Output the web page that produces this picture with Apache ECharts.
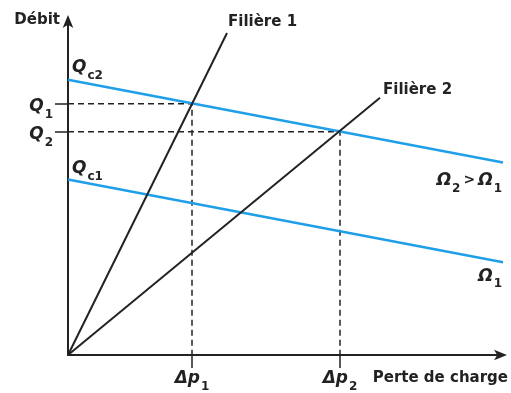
<!DOCTYPE html>
<html>
<head>
<meta charset="utf-8">
<script src="https://cdn.jsdelivr.net/npm/echarts@6/dist/echarts.min.js"></script>
<style>
  html, body { margin: 0; padding: 0; background: #fff; }
  #chart { width: 511px; height: 393px; }
</style>
</head>
<body>
<div id="chart"></div>
<script>
// values (arbitrary units, origin at the axes corner)
const filiere1 = [[0, 0], [159, 323]];
const filiere2 = [[0, 0], [312, 258]];
const omega2 = [[0, 276], [435, 193]];
const omega1 = [[0, 176], [435, 93]];
const operatingPoints = [[124, 252], [272, 224]];
const qLabels = ['1', '2'];
const xMax = 435;
const yMax = 337;

const font = 'DejaVu Sans';
const ink = '#222';
const blue = '#1e9fe8';

const rich = {
  q: { fontFamily: font, fontSize: 17, fontStyle: 'italic', fontWeight: 'bold', color: ink, lineHeight: 20, verticalAlign: 'middle' },
  s: { fontFamily: font, fontSize: 12, fontWeight: 'bold', color: ink, lineHeight: 20, verticalAlign: 'top', padding: [12, 0, 0, 1] },
  t: { fontFamily: font, fontSize: 14, fontWeight: 'bold', color: ink, lineHeight: 20, verticalAlign: 'middle', padding: [0, 3, 0, 3] }
};
const plainText = { fontFamily: font, fontSize: 15, fontWeight: 'bold', color: ink };

function sub (main, index) {
  return '{q|' + main + '}{s|' + index + '}';
}

function dashedGuide (pt) {
  return {
    type: 'line',
    data: [[0, pt[1]], pt, [pt[0], 0]],
    symbol: 'none',
    silent: true,
    lineStyle: { color: ink, width: 1.5, type: [6, 4] },
    z: 1
  };
}

// a line whose end points can carry a text label
function labelledLine (points, labels, style, z) {
  return {
    type: 'line',
    data: points.map((p, i) => labels[i] ? { value: p, label: Object.assign({ show: true }, labels[i]) } : { value: p }),
    symbol: 'circle',
    symbolSize: 0.01,
    itemStyle: { color: style.color },
    lineStyle: style,
    silent: true,
    z: z
  };
}

const myChart = echarts.init(document.getElementById('chart'));
myChart.setOption({
  animation: false,
  grid: { left: 68, right: 8, top: 19, bottom: 37 },
  xAxis: {
    type: 'value',
    min: 0,
    max: xMax,
    splitLine: { show: false },
    name: 'Perte de charge',
    nameLocation: 'end',
    nameGap: 5,
    nameTextStyle: Object.assign({ align: 'right', verticalAlign: 'top', padding: [16, 0, 0, 0] }, plainText),
    axisLine: { lineStyle: { color: ink, width: 2 }, symbol: ['none', 'arrow'], symbolSize: [8, 13], symbolOffset: [0, 4] },
    axisTick: { show: true, length: 13, inside: false, customValues: operatingPoints.map(p => p[0]), lineStyle: { color: ink, width: 1.5 } },
    axisLabel: {
      customValues: operatingPoints.map(p => p[0]),
      margin: 14,
      formatter: v => sub('Δp', qLabels[operatingPoints.findIndex(p => p[0] === v)]),
      rich: rich
    }
  },
  yAxis: {
    type: 'value',
    min: 0,
    max: yMax,
    splitLine: { show: false },
    name: 'Débit',
    nameLocation: 'end',
    nameGap: -1,
    nameTextStyle: Object.assign({ align: 'right', verticalAlign: 'middle', padding: [0, 8, 0, 0] }, plainText),
    axisLine: { lineStyle: { color: ink, width: 2 }, symbol: ['none', 'arrow'], symbolSize: [8, 13], symbolOffset: [0, 4] },
    axisTick: { show: true, length: 13, inside: false, customValues: operatingPoints.map(p => p[1]), lineStyle: { color: ink, width: 1.5 } },
    axisLabel: {
      customValues: operatingPoints.map(p => p[1]),
      margin: 15,
      padding: [6, 0, 0, 0],
      formatter: v => sub('Q', qLabels[operatingPoints.findIndex(p => p[1] === v)]),
      rich: rich
    }
  },
  series: [
    dashedGuide(operatingPoints[0]),
    dashedGuide(operatingPoints[1]),
    labelledLine(omega2, [
      { position: 'top', align: 'left', offset: [4, 3], formatter: sub('Q', 'c2'), rich: rich },
      { position: 'bottom', align: 'right', offset: [-1, 3], formatter: sub('Ω', '2') + '{t|>}' + sub('Ω', '1'), rich: rich }
    ], { color: blue, width: 2.5 }, 2),
    labelledLine(omega1, [
      { position: 'top', align: 'left', offset: [4, 4], formatter: sub('Q', 'c1'), rich: rich },
      { position: 'bottom', align: 'right', offset: [-1, -1], formatter: sub('Ω', '1'), rich: rich }
    ], { color: blue, width: 2.5 }, 2),
    labelledLine(filiere1, [
      null,
      Object.assign({ position: 'right', offset: [-4, -11], formatter: 'Filière 1' }, plainText)
    ], { color: ink, width: 2 }, 3),
    labelledLine(filiere2, [
      null,
      Object.assign({ position: 'right', offset: [-2, -8], formatter: 'Filière 2' }, plainText)
    ], { color: ink, width: 2 }, 3)
  ]
});
</script>
</body>
</html>
